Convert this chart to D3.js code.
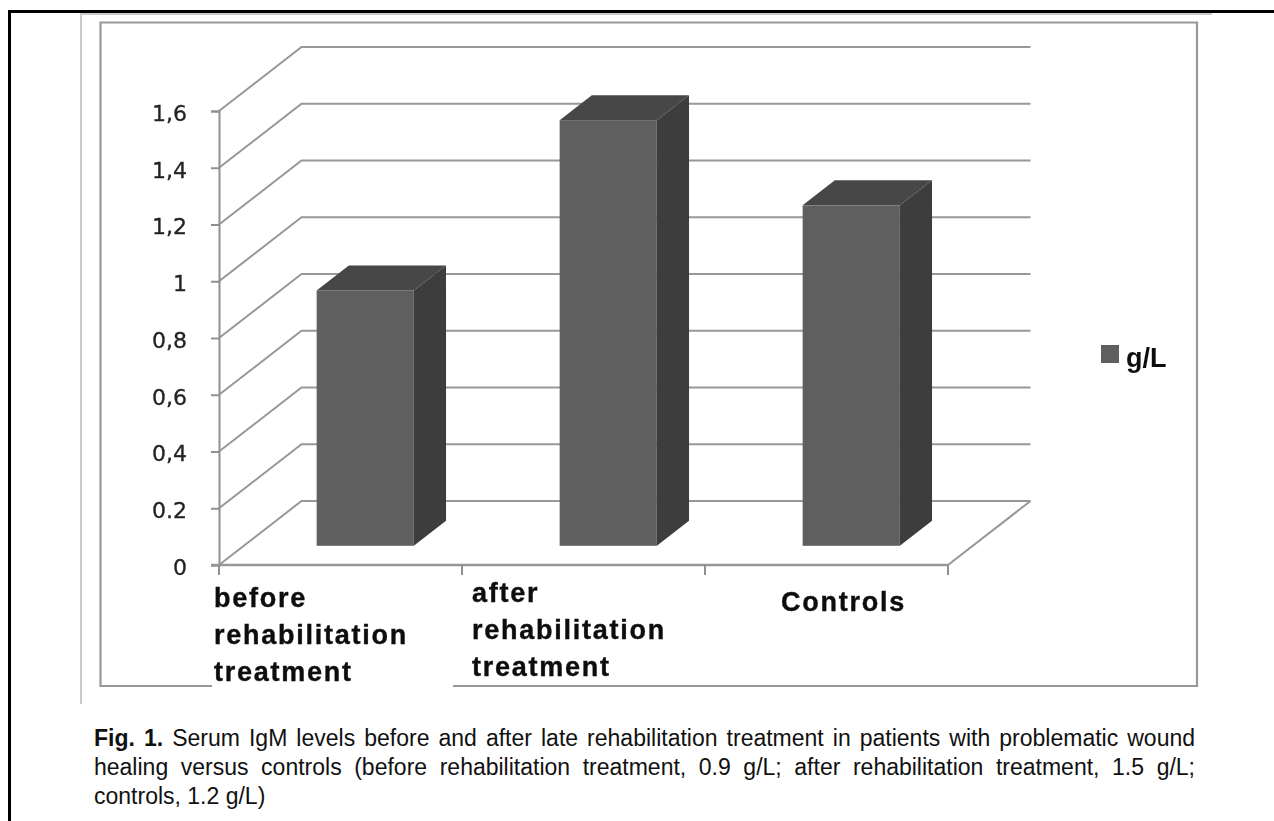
<!DOCTYPE html>
<html>
<head>
<meta charset="utf-8">
<script src="https://cdn.jsdelivr.net/npm/d3@7"></script>
<style>
  html, body { margin: 0; padding: 0; background: #fff; }
  svg { display: block; }
</style>
</head>
<body>
<div id="chart"></div>
<script>
  // values
  const categories = ["before", "after", "Controls"];
  const categoryLines = [
    ["before", "rehabilitation", "treatment"],
    ["after", "rehabilitation", "treatment"],
    ["Controls"]
  ];
  const values = [0.9, 1.5, 1.2];
  const tickValues = [0, 0.2, 0.4, 0.6, 0.8, 1, 1.2, 1.4, 1.6];
  const tickLabels = ["0", "0.2", "0,4", "0,6", "0,8", "1", "1,2", "1,4", "1,6"];
  const seriesName = "g/L";
  const captionLines = [
    "Serum IgM levels before and after late rehabilitation treatment in patients with problematic wound",
    "healing versus controls (before rehabilitation treatment, 0.9 g/L; after rehabilitation treatment, 1.5 g/L;",
    "controls, 1.2 g/L)"
  ];

  const width = 1274;
  const height = 821;

  const svg = d3.select("#chart").append("svg")
    .attr("width", width)
    .attr("height", height);

  // the source is a low-res scan, soften the chart a bit
  svg.append("defs").append("filter")
    .attr("id", "soft")
    .attr("x", "-5%").attr("y", "-5%").attr("width", "110%").attr("height", "110%")
    .append("feGaussianBlur")
    .attr("stdDeviation", 0.7);

  // page border
  svg.append("path")
    .attr("d", "M9.5,821V11.5H1274")
    .attr("fill", "none")
    .attr("stroke", "#000")
    .attr("stroke-width", 3);

  // light border of the pasted image
  svg.append("path")
    .attr("d", "M81,704V14H1212")
    .attr("fill", "none")
    .attr("stroke", "#ccc")
    .attr("stroke-width", 2);

  const chart = svg.append("g").attr("filter", "url(#soft)");

  // chart frame, the label covers part of its bottom edge
  chart.append("path")
    .attr("d", "M212,686H100.5V22.5H1197V686H453")
    .attr("fill", "none")
    .attr("stroke", "#989898")
    .attr("stroke-width", 2.2);

  const x = d3.scaleBand().domain(categories).range([219, 948]);
  const y = d3.scaleLinear().domain([0, 1.6]).range([565, 111]);

  // depth of the fake 3d box, 0 = front, 1 = back wall
  const depthX = d3.scaleLinear().domain([0, 1]).range([0, 82.5]);
  const depthY = d3.scaleLinear().domain([0, 1]).range([0, -64]);
  const barDepth = [0.30, 0.69];
  const barWidth = x.bandwidth() * 0.4;

  const px = (xv, d) => xv + depthX(d);
  const py = (v, d) => y(v) + depthY(d);
  const poly = pts => "M" + pts.map(p => p.join(",")).join("L") + "Z";

  // wall lines
  const grid = chart.append("g")
    .attr("fill", "none")
    .attr("stroke", "#989898")
    .attr("stroke-width", 2);

  grid.selectAll("path")
    .data(tickValues)
    .enter().append("path")
    .attr("d", d => `M${px(219, 0)},${py(d, 0)}L${px(219, 1)},${py(d, 1)}H${px(948, 1)}`);

  // floor edge on the right
  grid.append("path")
    .attr("d", `M${px(948, 0)},${py(0, 0)}L${px(948, 1)},${py(0, 1)}`);

  // bars
  const bars = chart.selectAll(".bar")
    .data(categories)
    .enter().append("g")
    .attr("class", "bar");

  const left = c => x(c) + (x.bandwidth() - barWidth) / 2;
  const val = c => values[categories.indexOf(c)];
  const [d0, d1] = barDepth;

  bars.append("path")
    .attr("fill", "#3c3c3c")
    .attr("d", c => {
      const r = left(c) + barWidth;
      return poly([[px(r, d0), py(0, d0)], [px(r, d1), py(0, d1)], [px(r, d1), py(val(c), d1)], [px(r, d0), py(val(c), d0)]]);
    });

  bars.append("path")
    .attr("fill", "#464646")
    .attr("d", c => {
      const l = left(c), r = l + barWidth, v = val(c);
      return poly([[px(l, d0), py(v, d0)], [px(l, d1), py(v, d1)], [px(r, d1), py(v, d1)], [px(r, d0), py(v, d0)]]);
    });

  bars.append("rect")
    .attr("fill", "#5e5e5e")
    .attr("x", c => px(left(c), d0))
    .attr("y", c => py(val(c), d0))
    .attr("width", barWidth)
    .attr("height", c => y(0) - y(val(c)));

  // y axis
  const yAxis = d3.axisLeft(y)
    .tickValues(tickValues)
    .tickFormat((d, i) => tickLabels[i])
    .tickSize(8)
    .tickPadding(24);

  const yG = chart.append("g")
    .attr("transform", "translate(219,0)")
    .call(yAxis);

  yG.selectAll("line, path").attr("stroke", "#909090").attr("stroke-width", 2);
  yG.selectAll("text")
    .attr("fill", "#222")
    .attr("stroke", "#222")
    .attr("stroke-width", 0.3)
    .attr("font-family", "'DejaVu Sans', sans-serif")
    .attr("font-size", 22)
    .attr("dy", "0.42em");

  // x axis line and the ticks between categories
  const xEdges = categories.map(c => x(c)).concat([x.range()[1]]);

  chart.append("line")
    .attr("x1", 211).attr("x2", x.range()[1])
    .attr("y1", y(0)).attr("y2", y(0))
    .attr("stroke", "#989898")
    .attr("stroke-width", 2.5);

  chart.selectAll(".xtick")
    .data(xEdges)
    .enter().append("line")
    .attr("class", "xtick")
    .attr("x1", d => d).attr("x2", d => d)
    .attr("y1", y(0)).attr("y2", y(0) + 10)
    .attr("stroke", "#909090")
    .attr("stroke-width", 2);

  // category labels
  const labelX = [214, 472, 781];
  const labelY = [607, 602, 611];
  const labelStep = 37;

  chart.selectAll(".cat")
    .data(categoryLines)
    .enter().append("text")
    .attr("class", "cat")
    .attr("fill", "#111")
    .attr("stroke", "#111")
    .attr("stroke-width", 0.4)
    .attr("font-family", "'Liberation Sans', sans-serif")
    .attr("font-weight", "bold")
    .attr("font-size", 27)
    .attr("letter-spacing", 1.75)
    .selectAll("tspan")
    .data((lines, i) => lines.map((t, k) => ({ t, x: labelX[i], y: labelY[i] + k * labelStep })))
    .enter().append("tspan")
    .attr("x", d => d.x)
    .attr("y", d => d.y)
    .text(d => d.t);

  // legend
  chart.append("rect")
    .attr("x", 1101).attr("y", 345)
    .attr("width", 18).attr("height", 18)
    .attr("fill", "#5e5e5e");

  chart.append("text")
    .attr("x", 1126).attr("y", 367)
    .attr("fill", "#111")
    .attr("font-family", "'Liberation Sans', sans-serif")
    .attr("font-weight", "bold")
    .attr("font-size", 27)
    .text(seriesName);

  // caption, first two lines are justified
  const capLeft = 94, capRight = 1195;
  const capY = [746, 775, 804];

  captionLines.forEach((line, i) => {
    const t = svg.append("text")
      .attr("x", capLeft).attr("y", capY[i])
      .attr("fill", "#111")
      .attr("font-family", "'Liberation Sans', sans-serif")
      .attr("font-size", 23);
    if (i === 0) {
      t.append("tspan").attr("font-weight", "bold").text("Fig. 1.");
      t.append("tspan").text(" " + line);
    } else {
      t.text(line);
    }
    if (i < 2) {
      const gaps = (i === 0 ? line.split(" ").length + 1 : line.split(" ").length - 1);
      const extra = (capRight - capLeft - t.node().getComputedTextLength()) / gaps;
      t.attr("word-spacing", extra);
    }
  });
</script>
</body>
</html>
